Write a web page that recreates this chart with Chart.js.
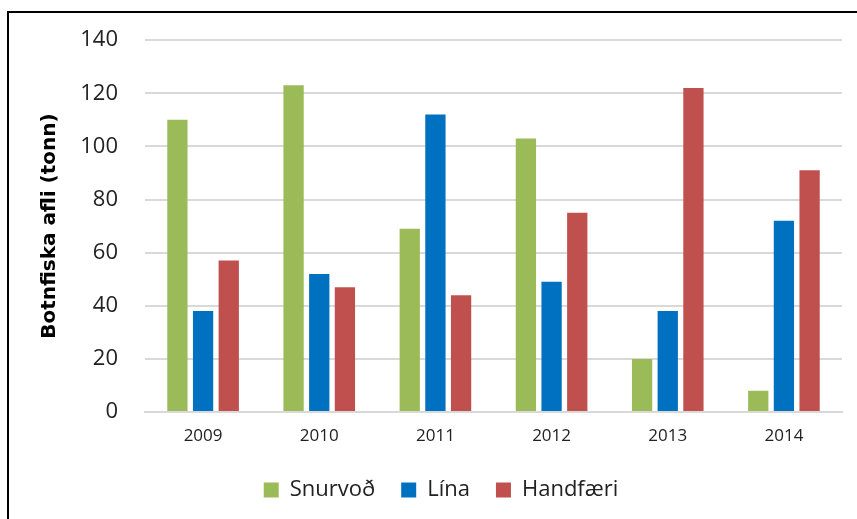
<!DOCTYPE html>
<html>
<head>
<meta charset="utf-8">
<script src="https://cdn.jsdelivr.net/npm/chart.js@4/dist/chart.umd.min.js"></script>
<style>
html,body{margin:0;padding:0;background:#fff;}
#wrap{position:relative;width:857px;height:519px;overflow:hidden;}
#frame{position:absolute;left:7px;top:11px;width:900px;height:600px;border:2px solid #000;box-sizing:border-box;pointer-events:none;}
canvas{position:absolute;left:0;top:0;}
</style>
</head>
<body>
<div id="wrap">
<div id="frame"></div>
<canvas id="c" width="857" height="519"></canvas>
</div>
<script>
const categories = ["2009","2010","2011","2012","2013","2014"];
const snurvod = [110,123,69,103,20,8];
const lina = [38,52,112,49,38,72];
const handfaeri = [57,47,44,75,122,91];
const seriesNames = ["Snurvoð","Lína","Handfæri"];
const yTitle = "Botnfiska afli (tonn)";

const FONT = "'Open Sans', Lato, sans-serif";

new Chart(document.getElementById('c'), {
  type: 'bar',
  data: {
    labels: categories,
    datasets: [
      {label: seriesNames[0], data: snurvod, backgroundColor: '#9BBB59'},
      {label: seriesNames[1], data: lina, backgroundColor: '#0070C0'},
      {label: seriesNames[2], data: handfaeri, backgroundColor: '#C0504D'}
    ]
  },
  options: {
    responsive: false,
    animation: false,
    devicePixelRatio: 1,
    layout: {padding: {top: 31, right: 15, bottom: 8, left: 40}},
    datasets: {bar: {categoryPercentage: 0.663, barPercentage: 0.79}},
    scales: {
      x: {
        grid: {display: false, drawTicks: false},
        border: {display: true, color: '#d9d9d9', width: 2},
        ticks: {color: '#222', font: {family: FONT, size: 17}, padding: 14},
        afterFit: s => { s.height = 41; }
      },
      y: {
        min: 0, max: 140,
        ticks: {stepSize: 20, color: '#222', font: {family: FONT, size: 22}, padding: 27},
        grid: {color: '#d9d9d9', lineWidth: 2, drawTicks: false},
        border: {display: false},
        title: {display: true, text: yTitle, color: '#000', font: {family: "'DejaVu Sans', sans-serif", size: 20, weight: 'bold', lineHeight: 1}, padding: {top: 0, bottom: 0}},
        afterFit: s => { s.width = 105; }
      }
    },
    plugins: {
      legend: {
        position: 'bottom',
        labels: {boxWidth: 15, boxHeight: 15, color: '#222', font: {family: FONT, size: 22}, padding: 26}
      },
      tooltip: {enabled: false}
    }
  }
});
</script>
</body>
</html>
